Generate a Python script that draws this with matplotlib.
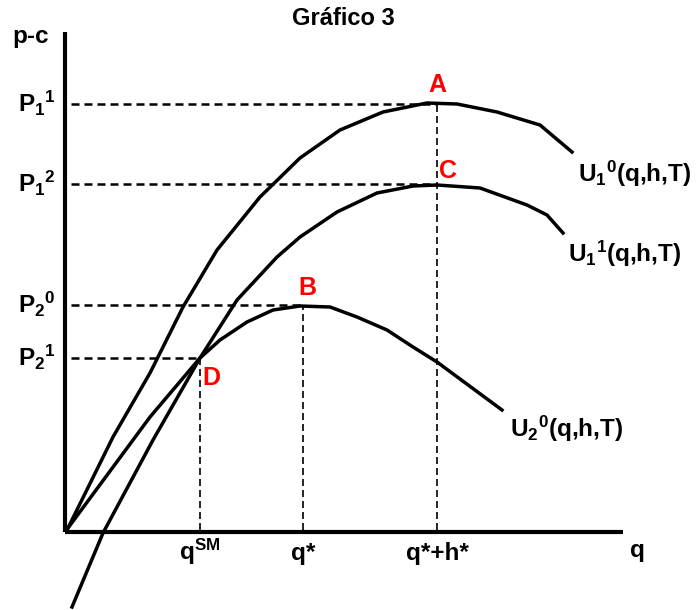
import matplotlib
matplotlib.use("Agg")
import matplotlib.pyplot as plt

plt.rcParams['font.family'] = ['Liberation Sans', 'DejaVu Sans']
plt.rcParams['font.weight'] = 'bold'
plt.rcParams['mathtext.fontset'] = 'custom'
plt.rcParams['mathtext.rm'] = 'Liberation Sans:bold'
plt.rcParams['mathtext.it'] = 'Liberation Sans:bold'
plt.rcParams['mathtext.bf'] = 'Liberation Sans:bold'

# ---------------------------
# curve data (q, p-c)
# ---------------------------
u10_q = [3, 48, 85, 118, 152, 195, 235, 275, 318, 362, 392, 432, 475, 507]
u10_v = [4, 95, 159, 225, 282, 335, 374, 402, 420, 429, 428, 420, 407, 380]

u11_q = [7, 38, 88, 135, 172, 212, 235, 272, 312, 348, 372, 415, 462, 482, 498]
u11_v = [-75, -1, 92, 174, 232, 275, 295, 320, 339, 346, 347, 344, 327, 317, 299]

u20_q = [3, 85, 135, 155, 182, 208, 235, 265, 292, 322, 348, 372, 437]
u20_v = [4, 115, 174, 192, 210, 222, 226, 225, 215, 202, 185, 170, 122]

# reference levels and quantities
p_levels = [428, 348, 227, 174]
p_ends = [372, 372, 238, 135]
p_labels = ['P$_1$$^1$', 'P$_1$$^2$', 'P$_2$$^0$', 'P$_2$$^1$']

q_marks = [135, 238, 372]
q_tops = [174, 226, 429]
q_labels = ['q$^{SM}$', 'q*', 'q*+h*']

pts = {'A': (372, 440), 'C': (383, 354), 'B': (242, 237), 'D': (137, 147)}
curve_labels = [('U$_1$$^0$(q,h,T)', 513, 350),
                ('U$_1$$^1$(q,h,T)', 503, 270),
                ('U$_2$$^0$(q,h,T)', 445, 95)]

fig = plt.figure(figsize=(6.97, 6.10), dpi=100)
ax = fig.add_axes([0, 0, 1, 1])
ax.set_xlim(-65, 632)
ax.set_ylim(-78, 532)
ax.axis('off')

# axes
ax.plot([0, 0], [0, 500], color='black', lw=3, solid_capstyle='butt')
ax.plot([0, 558], [0, 0], color='black', lw=3, solid_capstyle='butt')

# dashed guides
for lvl, end in zip(p_levels, p_ends):
    ax.plot([6, end], [lvl, lvl], color='black', lw=1.8, dashes=(3.2, 2.0))
for q, top in zip(q_marks, q_tops):
    ax.plot([q, q], [2, top], color='black', lw=1.2, dashes=(4.2, 2.4))

# curves
for qq, vv in [(u10_q, u10_v), (u11_q, u11_v), (u20_q, u20_v)]:
    ax.plot(qq, vv, color='black', lw=2.5, solid_joinstyle='miter')

fs = 17.5
ax.text(278, 507, 'Gráfico 3', fontsize=17, ha='center', va='baseline')
ax.text(-53, 489, 'p-c', fontsize=fs, ha='left', va='baseline')
ax.text(565, -25, 'q', fontsize=fs, ha='left', va='baseline')

for lvl, lab in zip(p_levels, p_labels):
    ax.text(-47, lvl - 8, lab, fontsize=fs, ha='left', va='baseline')
for q, lab in zip(q_marks, q_labels):
    ax.text(q, -28, lab, fontsize=fs, ha='center', va='baseline')

for name, (x, y) in pts.items():
    ax.text(x, y, name, fontsize=18, color='red', ha='center' if name != 'D' else 'left',
            va='baseline')

for lab, x, y in curve_labels:
    ax.text(x, y, lab, fontsize=fs, ha='left', va='baseline')

fig.savefig('out.png', dpi=100)
